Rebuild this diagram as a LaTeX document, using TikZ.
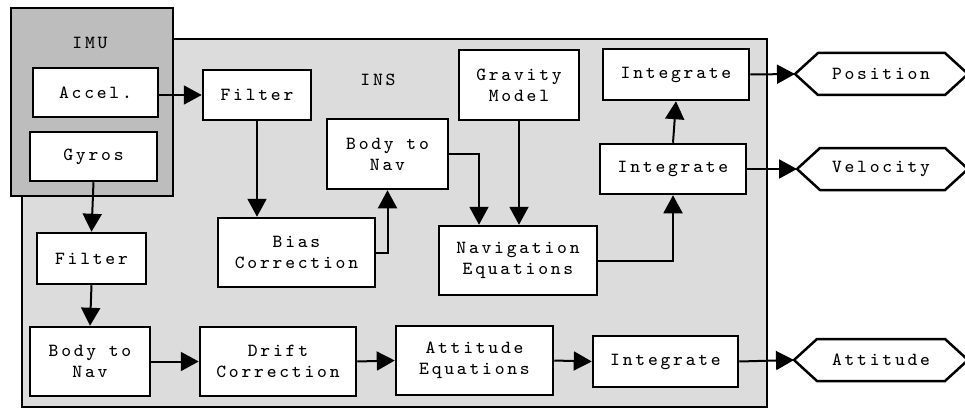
\documentclass[tikz,border=0pt]{standalone}
\usepackage{fontspec}
\usetikzlibrary{arrows.meta}
\newfontfamily\diafont{lmmono8-regular}[Extension=.otf, LetterSpace=15]
\newcommand\lbl{\diafont\fontsize{18.5}{21}\selectfont}
\definecolor{imugray}{HTML}{BDBDBD}
\definecolor{insgray}{HTML}{DCDCDC}
\tikzset{
  blk/.style={draw=black, fill=white, line width=2.5pt, align=center, font=\lbl, inner sep=0pt},
  grp/.style={draw=black, line width=2.5pt, inner sep=0pt},
  arr/.style={line width=2pt, -{Triangle[length=18pt,width=19pt]}},
  hexline/.style={draw=black, fill=white, line width=2.5pt},
  txt/.style={font=\lbl, inner sep=0pt}
}
\newcommand\hexbox[4]{%
  \draw[hexline] (#2,#3) -- (#2+23,#3-21) -- (945,#3-21) -- (968,#3) -- (945,#3+21) -- (#2+23,#3+21) -- cycle;
  \coordinate (#1) at (#2,#3);
  \node[txt] (#1t) at (881,#3) {#4};}
\begin{document}
\begin{tikzpicture}[x=1pt,y=-1pt]
\useasboundingbox (0,0) rectangle (965,409);
% groups
\node[grp, fill=insgray, minimum width=745pt, minimum height=368pt] (ins) at (394.5,223) {};
\node[txt] (inslbl) at (378,80) {INS};
\node[grp, fill=imugray, minimum width=162pt, minimum height=188pt] (imu) at (92,102) {};
\node[txt] (imulbl) at (90,43) {IMU};
% blocks
\node[blk, minimum width=125pt, minimum height=49pt] (accel) at (95.5,92.5) {Accel.};
\node[blk, minimum width=127pt, minimum height=49pt] (gyros) at (93.5,156.5) {Gyros};
\node[blk, minimum width=108pt, minimum height=50pt] (filt1) at (257,95) {Filter};
\node[blk, minimum width=121pt, minimum height=70pt] (btn1) at (387.5,154) {Body to\\Nav};
\node[blk, minimum width=120pt, minimum height=70pt] (grav) at (519,85) {Gravity\\Model};
\node[blk, minimum width=146pt, minimum height=51pt] (int1) at (676,74.5) {Integrate};
\node[blk, minimum width=146pt, minimum height=50pt] (int2) at (673,169) {Integrate};
\node[blk, minimum width=157pt, minimum height=69pt] (bias) at (296.5,252.5) {Bias\\Correction};
\node[blk, minimum width=158pt, minimum height=69pt] (nav) at (518,260.5) {Navigation\\Equations};
\node[blk, minimum width=109pt, minimum height=51pt] (filt2) at (91.5,258.5) {Filter};
\node[blk, minimum width=120pt, minimum height=69pt] (btn2) at (90,361.5) {Body to\\Nav};
\node[blk, minimum width=156pt, minimum height=69pt] (drift) at (278,361.5) {Drift\\Correction};
\node[blk, minimum width=157pt, minimum height=69pt] (atteq) at (474.5,360.5) {Attitude\\Equations};
\node[blk, minimum width=145pt, minimum height=51pt] (int3) at (665.5,361.5) {Integrate};
% outputs
\hexbox{pos}{795}{74}{Position}
\hexbox{vel}{797}{169}{Velocity}
\hexbox{att}{794}{360}{Attitude}
% connectors
\draw[arr] (accel.east |- filt1.west) -- (filt1.west);
\draw[arr] (filt1.south) -- (filt1.south |- bias.north);
\draw[arr] (bias.east) -| (btn1.south);
\draw[arr] (btn1.east) -| ([xshift=-39pt]nav.north);
\draw[arr] (grav.south) -- (grav.south |- nav.north);
\draw[arr] (nav.east) -| (int2.south);
\draw[arr] (int2.north) -- (int1.south);
\draw[arr] (int1.east) -- (pos);
\draw[arr] (int2.east) -- (vel);
\draw[arr] (int3.east) -- (att);
\draw[arr] (gyros.south) -- (filt2.north);
\draw[arr] (filt2.south) -- (btn2.north);
\draw[arr] (btn2.east) -- (drift.west);
\draw[arr] (drift.east) -- (atteq.west);
\draw[arr] (atteq.east) -- (int3.west);
\end{tikzpicture}
\end{document}
